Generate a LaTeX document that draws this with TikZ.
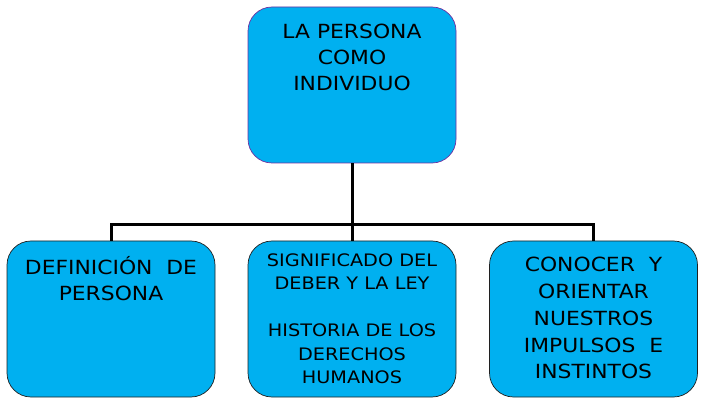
\documentclass[tikz,border=0pt]{standalone}
\usepackage{fontspec}
\setmainfont{DejaVu Sans}[FakeStretch=1.12]
\definecolor{boxblue}{HTML}{00B0F0}
\definecolor{topborder}{HTML}{7030A0}
\definecolor{boxborder}{HTML}{202020}
\begin{document}
\begin{tikzpicture}[x=1pt,y=-1pt,
  box/.style={draw=boxborder, fill=boxblue, rounded corners=24pt, minimum width=208pt, minimum height=156pt, inner sep=0pt, line width=0.7pt},
  label/.style={anchor=north, inner sep=0pt, align=center, text=black},
  conn/.style={line width=3pt}]
\useasboundingbox (0,0) rectangle (705,409);
\node[box, draw=topborder] (top) at (352,85) {};
\node[box] (b1) at (111,319) {};
\node[box] (b2) at (352,319) {};
\node[box] (b3) at (593.5,319) {};
\draw[conn] (top.south) -- ++(0,61) coordinate (j);
\draw[conn] (b1.north) |- (j) -| (b3.north);
\draw[conn] (j) -- (b2.north);
\node[label, font=\fontsize{19.5}{26}\selectfont] (t0) at (352,24) {LA PERSONA\\COMO\\INDIVIDUO};
\node[label, font=\fontsize{19.5}{26}\selectfont] (t1) at (111,256) {DEFINICIÓN~~DE\\PERSONA};
\node[label, font=\fontsize{17.2}{23.5}\selectfont] (t2) at (352,253.5) {SIGNIFICADO DEL\\DEBER Y LA LEY\\[23.5pt]HISTORIA DE LOS\\DERECHOS\\HUMANOS};
\node[label, font=\fontsize{19.5}{26.8}\selectfont] (t3) at (593.5,257) {CONOCER~~Y\\ORIENTAR\\NUESTROS\\IMPULSOS~~E\\INSTINTOS};
\end{tikzpicture}
\end{document}
